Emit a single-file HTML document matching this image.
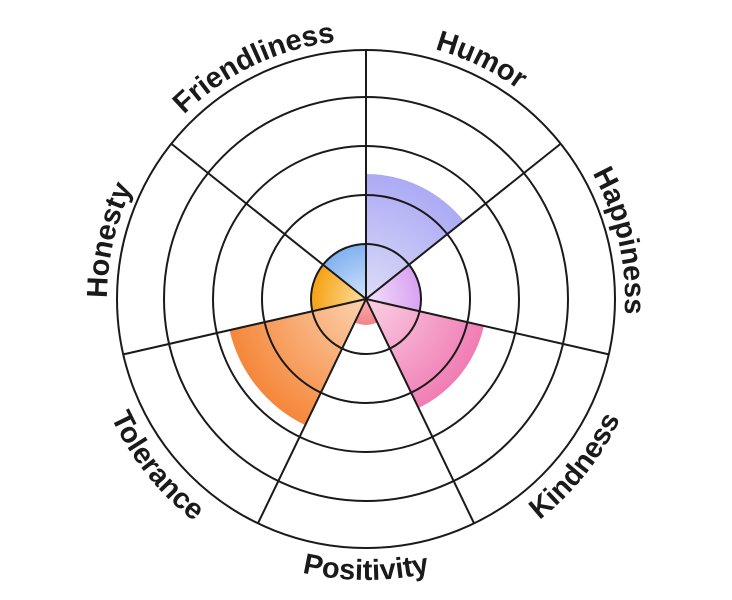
<!DOCTYPE html>
<html><head><meta charset="utf-8"><style>
html,body{margin:0;padding:0;background:#fff;}
svg{display:block;}
text{font-family:"Liberation Sans",sans-serif;font-weight:bold;font-size:29px;fill:#1a1a1a;}
</style></head><body>
<svg id="s" width="732" height="600" viewBox="0 0 732 600" xmlns="http://www.w3.org/2000/svg">
<defs>
<radialGradient id="gP" gradientUnits="userSpaceOnUse" cx="366" cy="299" r="130"><stop offset="0" stop-color="#dcdcf8"/><stop offset="1" stop-color="#aaa8f4"/></radialGradient>
<radialGradient id="gV" gradientUnits="userSpaceOnUse" cx="366" cy="299" r="60"><stop offset="0" stop-color="#f2e0f8"/><stop offset="1" stop-color="#d79cf0"/></radialGradient>
<radialGradient id="gK" gradientUnits="userSpaceOnUse" cx="366" cy="299" r="125"><stop offset="0" stop-color="#fad0e4"/><stop offset="1" stop-color="#f07ab2"/></radialGradient>
<radialGradient id="gR" gradientUnits="userSpaceOnUse" cx="366" cy="299" r="28"><stop offset="0" stop-color="#fbb0b0"/><stop offset="1" stop-color="#f27f84"/></radialGradient>
<radialGradient id="gT" gradientUnits="userSpaceOnUse" cx="366" cy="299" r="140"><stop offset="0" stop-color="#fcd2b0"/><stop offset="1" stop-color="#f5873a"/></radialGradient>
<radialGradient id="gH" gradientUnits="userSpaceOnUse" cx="366" cy="299" r="56"><stop offset="0" stop-color="#fde0a0"/><stop offset="1" stop-color="#f5a010"/></radialGradient>
<radialGradient id="gF" gradientUnits="userSpaceOnUse" cx="366" cy="299" r="56"><stop offset="0" stop-color="#d2e4fb"/><stop offset="1" stop-color="#7fb0f0"/></radialGradient>
</defs>
</svg>
<script>
var s=document.getElementById('s'),cx=366,cy=299,NS='http://www.w3.org/2000/svg';
function pt(r,a){a=a*Math.PI/180;return [cx+r*Math.sin(a),cy-r*Math.cos(a)];}
function add(tag,at,txt){var e=document.createElementNS(NS,tag);for(var k in at)e.setAttribute(k,at[k]);if(txt)e.textContent=txt;s.appendChild(e);return e;}
var st=360/7;
var fills=[['gP',125],['gV',55],['gK',121],['gR',26],['gT',140],['gH',55],['gF',55]];
fills.forEach(function(f,i){var a0=i*st,a1=(i+1)*st,p0=pt(f[1],a0),p1=pt(f[1],a1);
add('path',{d:'M'+cx+' '+cy+'L'+p0[0]+' '+p0[1]+'A'+f[1]+' '+f[1]+' 0 0 1 '+p1[0]+' '+p1[1]+'Z',fill:'url(#'+f[0]+')'});});
[55,104,153,202,249].forEach(function(r){add('circle',{cx:cx,cy:cy,r:r,fill:'none',stroke:'#1a1a1a','stroke-width':2});});
for(var i=0;i<7;i++){var p=pt(249,i*st);add('line',{x1:cx,y1:cy,x2:p[0],y2:p[1],stroke:'#1a1a1a','stroke-width':2});}
var labels=['Humor','Happiness','Kindness','Positivity','Tolerance','Honesty','Friendliness'];
var cw=[1,1,0,0,0,1,1];
labels.forEach(function(l,i){var m=(i+0.5)*st,d;
if(cw[i]){var r=259,p0=pt(r,m-60),p1=pt(r,m+60);d='M'+p0[0]+' '+p0[1]+'A'+r+' '+r+' 0 0 1 '+p1[0]+' '+p1[1];}
else{var r=281,p0=pt(r,m+60),p1=pt(r,m-60);d='M'+p0[0]+' '+p0[1]+'A'+r+' '+r+' 0 0 0 '+p1[0]+' '+p1[1];}
add('path',{id:'lp'+i,d:d,fill:'none'});
var t=add('text',{'text-anchor':'middle'});var tp=document.createElementNS(NS,'textPath');
tp.setAttribute('href','#lp'+i);tp.setAttribute('startOffset','50%');tp.textContent=l;t.appendChild(tp);});
</script>
</body></html>
